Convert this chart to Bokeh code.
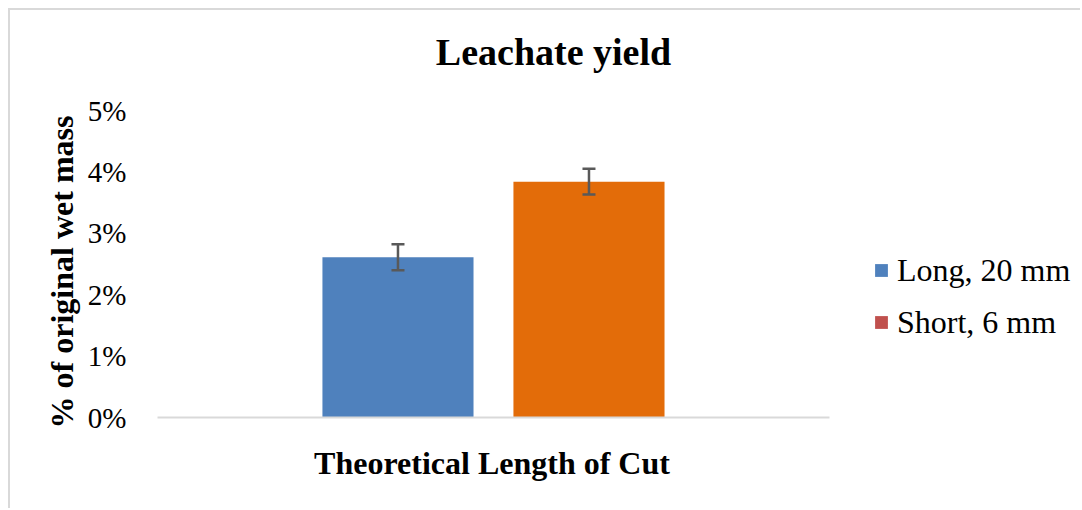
from bokeh.plotting import figure
from bokeh.models import (ColumnDataSource, Range1d, Whisker, Legend, LegendItem, LinearAxis,
                          PrintfTickFormatter, FixedTicker, TeeHead)
from bokeh.embed import file_html
from bokeh.resources import INLINE

series = ["Long, 20 mm", "Short, 6 mm"]
values = [2.61, 3.84]          # % of original wet mass
errors = [0.21, 0.21]
bar_colors = ["#4F81BD", "#E36C09"]
legend_colors = ["#4F81BD", "#C0504D"]
y_ticks = [0, 1, 2, 3, 4, 5]
title = "Leachate yield"
x_title = "Theoretical Length of Cut"
y_title = "% of original wet mass"

FONT = "Liberation Serif"
NBSP = "\u00a0"

# layout (pixels): one category slot = 191 px, bars centred at slot positions
PX = 191.0
idx = list(range(len(series)))
mid = (idx[0] + idx[-1]) / 2.0
half_band = 1.759
x_start = mid - half_band
x_end = idx[0] + (1082 - 397.5) / PX

src = ColumnDataSource(dict(
    x=idx, top=values, color=bar_colors,
    upper=[v + e for v, e in zip(values, errors)],
    lower=[v - e for v, e in zip(values, errors)],
))

p = figure(width=1072, height=500, output_backend="svg", toolbar_location=None,
           x_range=Range1d(x_start, x_end), y_range=Range1d(0, 5),
           min_border_left=147, min_border_right=0, min_border_top=100, min_border_bottom=93)
p.styles = {"border-left": "2px solid #d9d9d9", "border-top": "2px solid #d9d9d9",
            "margin-left": "8px", "margin-top": "8px"}

p.vbar(x="x", top="top", width=0.791, fill_color="color", line_color=None, source=src)
p.add_layout(Whisker(base="x", upper="upper", lower="lower", source=src, level="overlay",
                     line_color="#595959", line_width=2.5,
                     upper_head=TeeHead(size=13, line_color="#595959", line_width=2.5),
                     lower_head=TeeHead(size=13, line_color="#595959", line_width=2.5)))

# legend proxies (not drawn: NaN geometry)
proxies = []
for name, c in zip(series, legend_colors):
    r = p.vbar(x=[float("nan")], top=[float("nan")], width=0.5, fill_color=c, line_color=None)
    proxies.append(LegendItem(label=name, renderers=[r]))
legend = Legend(items=proxies, location=(716, 74), padding=0, margin=0,
                border_line_color=None, background_fill_alpha=0,
                glyph_width=16, glyph_height=16, label_standoff=8,
                label_height=42, spacing=10,
                label_text_font=FONT, label_text_font_size="32px", label_text_color="#000000")
p.add_layout(legend, "center")

p.xgrid.visible = False
p.ygrid.visible = False
p.outline_line_color = None

xa = p.below[0]
ya = p.left[0]

# title as an above-axis label (trailing no-break spaces shift it off the frame centre)
ta = LinearAxis(ticker=FixedTicker(ticks=[]),
                axis_line_color=None, major_tick_line_color=None, minor_tick_line_color=None,
                major_label_text_font_size="0px", axis_label=title + NBSP * 14,
                axis_label_text_font=FONT, axis_label_text_font_size="38px",
                axis_label_text_font_style="bold", axis_label_text_color="#000000",
                axis_label_standoff=38)
p.add_layout(ta, "above")

xa.ticker = FixedTicker(ticks=[])
xa.bounds = (x_start, mid + half_band)
xa.axis_line_color = "#d9d9d9"
xa.axis_line_width = 2
xa.major_tick_line_color = None
xa.minor_tick_line_color = None
xa.major_label_text_font_size = "0px"
xa.axis_label = x_title + NBSP * 32
xa.axis_label_text_font = FONT
xa.axis_label_text_font_size = "32px"
xa.axis_label_text_font_style = "bold"
xa.axis_label_text_color = "#000000"
xa.axis_label_standoff = 27

ya.ticker = FixedTicker(ticks=y_ticks)
ya.formatter = PrintfTickFormatter(format="%d%%")
ya.axis_line_color = None
ya.major_tick_line_color = None
ya.minor_tick_line_color = None
ya.major_label_standoff = 25
ya.major_label_text_font = FONT
ya.major_label_text_font_size = "29px"
ya.major_label_text_color = "#000000"
ya.axis_label = y_title + NBSP * 2
ya.axis_label_text_font = FONT
ya.axis_label_text_font_size = "32px"
ya.axis_label_text_font_style = "bold"
ya.axis_label_text_color = "#000000"
ya.axis_label_standoff = 5

open("out.html", "w").write(file_html(p, INLINE))
